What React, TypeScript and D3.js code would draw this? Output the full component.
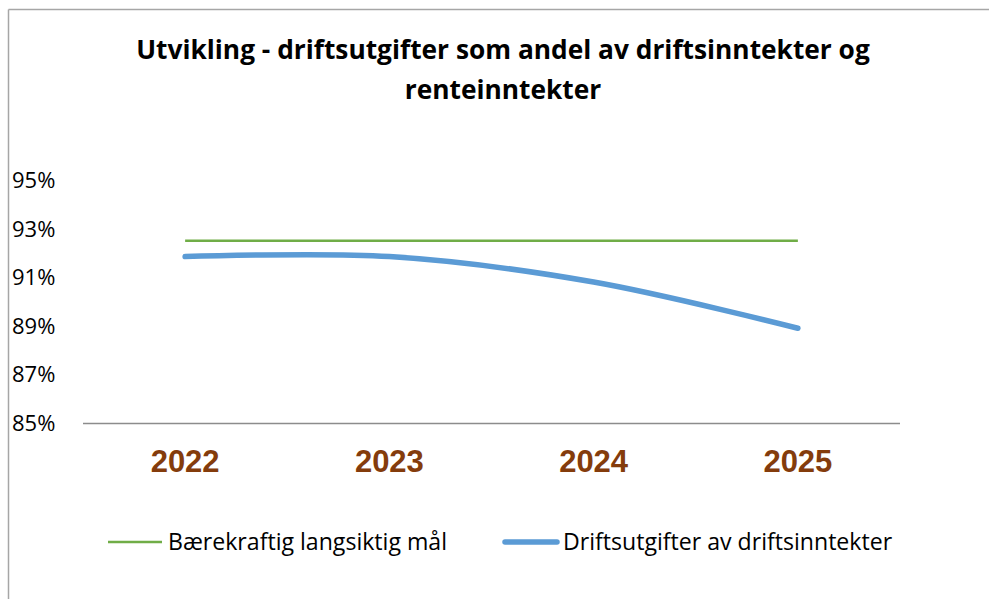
import React from "react";
import * as d3 from "d3";

const title = ["Utvikling - driftsutgifter som andel av driftsinntekter og", "renteinntekter"];
const years = ["2022", "2023", "2024", "2025"];
const targetValues = [92.5, 92.5, 92.5, 92.5];
const actualValues = [91.85, 91.85, 90.8, 88.9];
const yTicks = [85, 87, 89, 91, 93, 95];
const seriesNames = ["Bærekraftig langsiktig mål", "Driftsutgifter av driftsinntekter"];

const W = 989, H = 599;
const plot = { left: 83, right: 900, top: 180, bottom: 423 };

export default function App() {
  const x = d3.scaleBand<string>().domain(years).range([plot.left, plot.right]);
  const y = d3.scaleLinear().domain([85, 95]).range([plot.bottom, plot.top]);
  const cx = (d: string) => (x(d) ?? 0) + x.bandwidth() / 2;
  const target = d3.line<number>().x((_, i) => cx(years[i])).y((v) => y(v));
  const actual = d3
    .line<number>()
    .x((_, i) => cx(years[i]))
    .y((v) => y(v))
    .curve(d3.curveCatmullRom.alpha(0.5));
  const font = "'Open Sans', sans-serif";
  return (
    <svg width={W} height={H} style={{ position: "absolute", left: 0, top: 0, background: "#fff" }}>
      <rect x={0} y={0} width={W} height={H} fill="#fff" />
      <line x1={8.5} y1={9.5} x2={W} y2={9.5} stroke="#a6a6a6" strokeWidth={1.5} />
      <line x1={8.5} y1={9.5} x2={8.5} y2={H} stroke="#a6a6a6" strokeWidth={1.5} />
      {title.map((t, i) => (
        <text key={i} x={503} y={50 + i * 40} dy="0.36em" textAnchor="middle" fontFamily={font} fontWeight="bold" fontSize={26.3} fill="#000">
          {t}
        </text>
      ))}
      {yTicks.map((t) => (
        <text key={t} x={12} y={y(t)} dy="0.36em" fontFamily={font} fontSize={22} fill="#000">
          {t}%
        </text>
      ))}
      <line x1={plot.left} x2={plot.right} y1={plot.bottom + 0.5} y2={plot.bottom + 0.5} stroke="#8c8c8c" strokeWidth={1.5} />
      {years.map((yr) => (
        <text key={yr} x={cx(yr)} y={472} textAnchor="middle" fontFamily="'Liberation Sans', Arial, sans-serif" fontWeight="bold" fontSize={31} fill="#843c0c">
          {yr}
        </text>
      ))}
      <path d={target(targetValues) ?? ""} fill="none" stroke="#70ad47" strokeWidth={2.5} />
      <path d={actual(actualValues) ?? ""} fill="none" stroke="#5b9bd5" strokeWidth={5.5} strokeLinecap="round" />
      <line x1={108} x2={162} y1={542} y2={542} stroke="#70ad47" strokeWidth={2.5} />
      <text x={168} y={542} dy="0.36em" fontFamily={font} fontSize={23.1} fill="#000">
        {seriesNames[0]}
      </text>
      <line x1={505} x2={557} y1={542} y2={542} stroke="#5b9bd5" strokeWidth={5.5} strokeLinecap="round" />
      <text x={563} y={542} dy="0.36em" fontFamily={font} fontSize={23.1} fill="#000">
        {seriesNames[1]}
      </text>
    </svg>
  );
}
